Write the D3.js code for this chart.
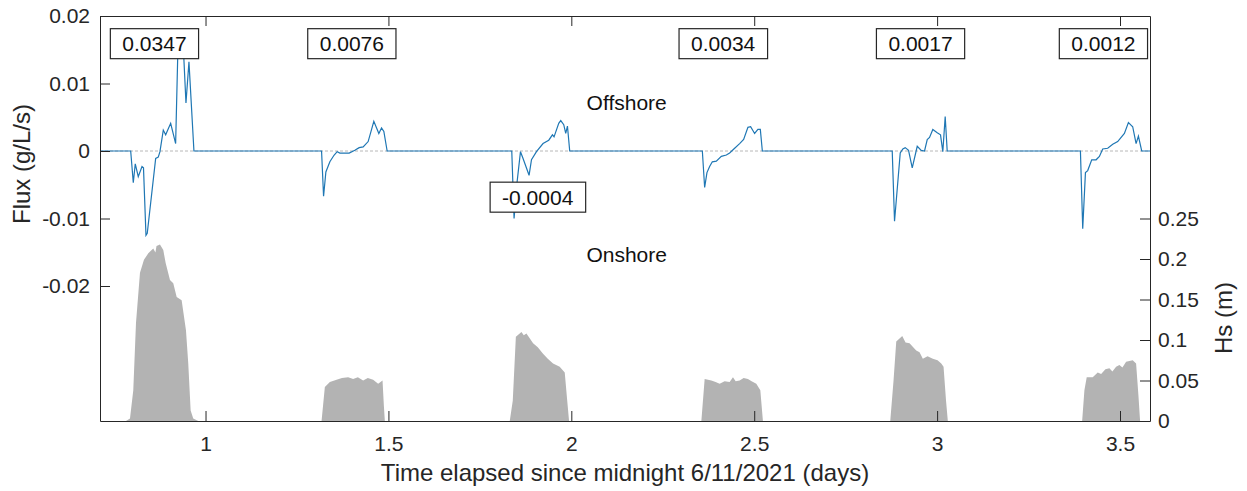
<!DOCTYPE html>
<html>
<head>
<meta charset="utf-8">
<script src="https://cdn.jsdelivr.net/npm/d3@7"></script>
<style>
  body { margin: 0; background: #fff; }
  svg text { font-family: "Liberation Sans", Arial, Helvetica, sans-serif; }
</style>
</head>
<body>
<div id="chart"></div>
<script>
// flux time series (days, g/L/s), one row per event
const fluxT = [0.7115,
  0.7954, 0.8025, 0.8079, 0.8161, 0.8263, 0.8304, 0.8372, 0.8407, 0.8637, 0.8708, 0.8754, 0.8845, 0.8910, 0.9047, 0.9183, 0.9254, 0.9328, 0.9383, 0.9465, 0.9547, 0.9683,
  1.3172, 1.3227, 1.3290, 1.3399, 1.3517, 1.3599, 1.3672, 1.3927, 1.4082, 1.4200, 1.4309, 1.4446, 1.4601, 1.4738, 1.4812, 1.4875, 1.4965,
  1.8372, 1.8435, 1.8509, 1.8610, 1.8673, 1.8845, 1.8911, 1.9047, 1.9227, 1.9383, 1.9484, 1.9528, 1.9656, 1.9711, 1.9793, 1.9847, 1.9894, 1.9956,
  2.3582, 2.3645, 2.3708, 2.3781, 2.3855, 2.3964, 2.4101, 2.4238, 2.4328, 2.4465, 2.4601, 2.4711, 2.4828, 2.4902, 2.5011, 2.5101, 2.5167, 2.5222,
  2.8773, 2.8836, 2.8992, 2.9063, 2.9128, 2.9219, 2.9320, 2.9457, 2.9566, 2.9656, 2.9730, 2.9793, 2.9883, 3.0003, 3.0093, 3.0156, 3.0221, 3.0276,
  3.3918, 3.3981, 3.4055, 3.4117, 3.4227, 3.4347, 3.4437, 3.4527, 3.4664, 3.4801, 3.4937, 3.5120, 3.5230, 3.5347, 3.5440, 3.5503, 3.5593, 3.5820];
const fluxV = [0,
  0, -0.0047, -0.0019, -0.0038, -0.0023, -0.0025, -0.0125, -0.0122, -0.0011, -0.0009, -0.0001, 0.0031, 0.0024, 0.0041, 0.0011, 0.0172, 0.0143, 0.0165, 0.0071, 0.0132, 0,
  0, -0.0067, -0.0031, -0.0016, -0.0006, -0.0001, -0.0003, -0.0003, 0.0001, 0.0005, 0.0006, 0.0014, 0.0044, 0.0026, 0.0034, 0.0029, 0,
  0, -0.0100, -0.0050, -0.0001, -0.0010, -0.0036, -0.0013, -0.0001, 0.0011, 0.0016, 0.0024, 0.0021, 0.0041, 0.0045, 0.0039, 0.0026, 0.0037, 0,
  0, -0.0054, -0.0032, -0.0023, -0.0016, -0.0015, -0.0008, -0.0006, -0.0003, 0.0004, 0.0011, 0.0017, 0.0035, 0.0036, 0.0026, 0.0032, 0.0032, 0,
  0, -0.0104, -0.0003, 0.0003, 0.0005, 0.0001, -0.0025, 0.0007, 0.0001, 0.0000, 0.0017, 0.0020, 0.0032, 0.0027, 0.0024, -0.0001, 0.0051, 0,
  0, -0.0115, -0.0032, -0.0029, -0.0013, -0.0013, -0.0008, 0.0003, 0.0004, 0.0010, 0.0014, 0.0026, 0.0042, 0.0036, 0.0011, 0.0022, 0.0000, 0];

// significant wave height (days, m)
const hsT = [0.7115,
  0.7825, 0.7935, 0.8025, 0.8099, 0.8208, 0.8317, 0.8435, 0.8571, 0.8630, 0.8660, 0.8708, 0.8754, 0.8845, 0.8910, 0.9028, 0.9118, 0.9211, 0.9347, 0.9465, 0.9528, 0.9593, 0.9664, 0.9801,
  1.3172, 1.3262, 1.3399, 1.3582, 1.3730, 1.3899, 1.4036, 1.4164, 1.4309, 1.4437, 1.4582, 1.4719, 1.4839, 1.4875, 1.4902,
  1.8317, 1.8399, 1.8484, 1.8637, 1.8700, 1.8773, 1.8955, 1.9083, 1.9227, 1.9356, 1.9500, 1.9683, 1.9820, 1.9888, 1.9938,
  2.3555, 2.3645, 2.3828, 2.3945, 2.4055, 2.4191, 2.4328, 2.4419, 2.4492, 2.4601, 2.4711, 2.4828, 2.4929, 2.5057, 2.5167, 2.5238,
  2.8719, 2.8809, 2.8883, 2.9047, 2.9137, 2.9246, 2.9429, 2.9520, 2.9610, 2.9738, 2.9883, 3.0012, 3.0113, 3.0176, 3.0244, 3.0293,
  3.3965, 3.4027, 3.4090, 3.4254, 3.4391, 3.4484, 3.4601, 3.4710, 3.4792, 3.4893, 3.4984, 3.5066, 3.5167, 3.5347, 3.5440, 3.5503, 3.5549, 3.5820];
const hsV = [0,
  0, 0.003, 0.038, 0.121, 0.183, 0.199, 0.207, 0.213, 0.208, 0.216, 0.217, 0.218, 0.211, 0.195, 0.174, 0.170, 0.153, 0.149, 0.112, 0.071, 0.013, 0.003, 0,
  0, 0.042, 0.048, 0.051, 0.053, 0.054, 0.052, 0.054, 0.050, 0.053, 0.051, 0.046, 0.050, 0.019, 0,
  0, 0.025, 0.104, 0.110, 0.106, 0.108, 0.096, 0.091, 0.083, 0.077, 0.071, 0.067, 0.060, 0.025, 0,
  0, 0.052, 0.050, 0.048, 0.046, 0.049, 0.048, 0.054, 0.049, 0.050, 0.053, 0.052, 0.049, 0.046, 0.038, 0,
  0, 0.050, 0.098, 0.105, 0.097, 0.096, 0.087, 0.085, 0.077, 0.080, 0.077, 0.075, 0.071, 0.067, 0.025, 0,
  0, 0.038, 0.054, 0.054, 0.060, 0.058, 0.064, 0.065, 0.061, 0.067, 0.069, 0.066, 0.073, 0.075, 0.071, 0.032, 0, 0];

// boxed net flux labels: text, anchor time, anchor flux
const boxText = ["0.0347", "0.0076", "-0.0004", "0.0034", "0.0017", "0.0012"];
const boxT = [0.8604, 1.4000, 1.9082, 2.4151, 2.9547, 3.4547];
const boxY = [0.0159, 0.0159, -0.00684, 0.0159, 0.0159, 0.0159];

const xTicks = [1, 1.5, 2, 2.5, 3, 3.5];
const fluxTicks = [-0.02, -0.01, 0, 0.01, 0.02];
const hsTicks = [0, 0.05, 0.1, 0.15, 0.2, 0.25];

const width = 1247, height = 491;
const margin = {top: 16, right: 97, bottom: 70, left: 100};
const axisColor = "#262626";

const svg = d3.select("#chart")
    .append("svg")
    .attr("width", width)
    .attr("height", height);

let xScale = d3.scaleLinear()
    .domain([0.7115, 3.582])
    .range([margin.left, width - margin.right]);

let yFlux = d3.scaleLinear()
    .domain([-0.04, 0.02])
    .range([height - margin.bottom, margin.top]);

let yHs = d3.scaleLinear()
    .domain([0, 0.5])
    .range([height - margin.bottom, margin.top]);

svg.append("clipPath")
    .attr("id", "plot-clip")
    .append("rect")
    .attr("x", margin.left)
    .attr("y", margin.top)
    .attr("width", width - margin.left - margin.right)
    .attr("height", height - margin.top - margin.bottom);

// Hs as grey area
const hsData = hsT.map((t, i) => ({t: t, v: hsV[i]}));
svg.append("path")
    .datum(hsData)
    .attr("clip-path", "url(#plot-clip)")
    .attr("fill", "#b3b3b3")
    .attr("d", d3.area()
        .x(d => xScale(d.t))
        .y0(yHs(0))
        .y1(d => yHs(d.v)));

// zero reference
svg.append("line")
    .attr("x1", margin.left)
    .attr("x2", width - margin.right)
    .attr("y1", yFlux(0))
    .attr("y2", yFlux(0))
    .attr("stroke", "#b8b8b8")
    .attr("stroke-width", 1)
    .attr("stroke-dasharray", "3,2");

// flux line
const fluxData = fluxT.map((t, i) => ({t: t, v: fluxV[i]}));
svg.append("path")
    .datum(fluxData)
    .attr("clip-path", "url(#plot-clip)")
    .attr("fill", "none")
    .attr("stroke", "#1f77b4")
    .attr("stroke-width", 1.2)
    .attr("d", d3.line()
        .x(d => xScale(d.t))
        .y(d => yFlux(d.v)));

// axes (MATLAB style: ticks pointing in)
function styleAxis(g) {
    g.attr("font-size", 21)
        .attr("font-family", '"Liberation Sans", Arial, sans-serif');
    g.selectAll("path, line").attr("stroke", axisColor);
    g.selectAll("text").attr("fill", axisColor);
}

svg.append("g")
    .attr("transform", `translate(0,${height - margin.bottom})`)
    .call(d3.axisBottom(xScale).tickValues(xTicks).tickSize(-10).tickSizeOuter(0)
        .tickPadding(15).tickFormat(d => String(d)))
    .call(styleAxis);

svg.append("g")
    .attr("transform", `translate(0,${margin.top})`)
    .call(d3.axisTop(xScale).tickValues(xTicks).tickSize(-10).tickSizeOuter(0)
        .tickFormat(""))
    .call(styleAxis);

svg.append("g")
    .attr("transform", `translate(${margin.left},0)`)
    .call(d3.axisLeft(yFlux).tickValues(fluxTicks).tickSize(-10).tickSizeOuter(0)
        .tickPadding(10).tickFormat(d => String(d)))
    .call(styleAxis);

svg.append("g")
    .attr("transform", `translate(${width - margin.right},0)`)
    .call(d3.axisRight(yHs).tickValues(hsTicks).tickSize(-10).tickSizeOuter(0)
        .tickPadding(8).tickFormat(d => String(d)))
    .call(styleAxis);

// axis titles
svg.append("text")
    .attr("x", (margin.left + width - margin.right) / 2)
    .attr("y", 481)
    .attr("text-anchor", "middle")
    .attr("font-size", 24)
    .attr("fill", axisColor)
    .text("Time elapsed since midnight 6/11/2021 (days)");

svg.append("text")
    .attr("transform", "translate(30,164) rotate(-90)")
    .attr("text-anchor", "middle")
    .attr("font-size", 24)
    .attr("fill", axisColor)
    .text("Flux (g/L/s)");

svg.append("text")
    .attr("transform", "translate(1232,318) rotate(-90)")
    .attr("text-anchor", "middle")
    .attr("font-size", 24)
    .attr("fill", axisColor)
    .text("Hs (m)");

// direction notes
svg.append("text")
    .attr("x", xScale(2.1514))
    .attr("y", yFlux(0.0061))
    .attr("text-anchor", "middle")
    .attr("font-size", 21)
    .attr("fill", "#111")
    .text("Offshore");

svg.append("text")
    .attr("x", xScale(2.1514))
    .attr("y", yFlux(-0.0165))
    .attr("text-anchor", "middle")
    .attr("font-size", 21)
    .attr("fill", "#111")
    .text("Onshore");

// boxed labels
boxText.forEach((s, i) => {
    const g = svg.append("g");
    const rect = g.append("rect");
    const txt = g.append("text")
        .attr("x", xScale(boxT[i]))
        .attr("y", yFlux(boxY[i]))
        .attr("text-anchor", "middle")
        .attr("dominant-baseline", "central")
        .attr("font-size", 21)
        .attr("fill", "#111")
        .text(s);
    const bb = txt.node().getBBox();
    rect.attr("x", bb.x - 12)
        .attr("y", yFlux(boxY[i]) - 15)
        .attr("width", bb.width + 24)
        .attr("height", 30)
        .attr("fill", "#fff")
        .attr("stroke", "#262626")
        .attr("stroke-width", 1.2);
});
</script>
</body>
</html>
